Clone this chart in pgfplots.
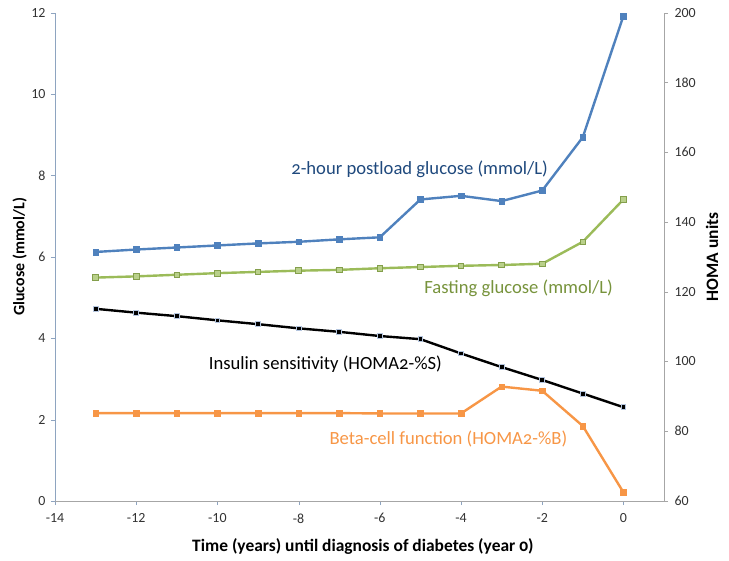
\documentclass[border=0pt]{standalone}
\usepackage{fontspec}
\setmainfont{Carlito}
\newfontfamily\osf[Numbers=OldStyle]{Carlito}
\usepackage{pgfplots}
\pgfplotsset{compat=1.18}
\definecolor{cblue}{HTML}{4F81BD}
\definecolor{cgreen}{HTML}{9BBB59}
\definecolor{cgreenfill}{HTML}{B9D08A}
\definecolor{corange}{HTML}{F79646}
\definecolor{tdblue}{HTML}{1F497D}
\definecolor{tgreen}{HTML}{77933C}
\definecolor{axblue}{HTML}{8EA4C0}
\definecolor{axgray}{HTML}{A6A6A6}
\definecolor{mkborder}{HTML}{B4C5DE}
\tikzset{lbl/.style={font=\osf\fontsize{18.7}{22}\selectfont}}
\begin{document}
\begin{tikzpicture}
\pgfplotsset{
  base/.style={
    scale only axis, width=609bp, height=488.3bp,
    xmin=-14, xmax=1,
    tick align=outside, major tick length=4bp,
    ticklabel style={font=\fontsize{14}{16}\selectfont, color=black!80},
    /pgf/number format/assume math mode=true,
    label style={font=\bfseries\fontsize{16}{19}\selectfont},
  },
}
\begin{axis}[base, name=ax,
  ymin=0, ymax=12,
  axis y line*=left, axis x line*=bottom,
  xtick={-14,-12,...,0}, ytick={0,2,...,12},
  axis line style={axblue}, tick style={axblue},
  x axis line style={axgray},
  xticklabel style={yshift=-5bp},
  yticklabel style={xshift=-2bp},
  xlabel={Time (years) until diagnosis of diabetes (year {\addfontfeature{Numbers=OldStyle}0})},
  ylabel={Glucose (mmol/L)},
  xlabel style={at={(axis description cs:0.5055,-0.094)}, anchor=center, font=\bfseries\fontsize{17.5}{20}\selectfont},
  ylabel style={at={(axis description cs:-0.058,0.5)}, anchor=center},
  clip=false,
]
\addplot[cblue, line width=2.4bp, mark=square*, mark size=2.8bp, mark options={fill=cblue, draw=cblue, line width=0.5bp}] coordinates {
(-13,6.12) (-12,6.18) (-11,6.23) (-10,6.28) (-9,6.33) (-8,6.37) (-7,6.43) (-6,6.48)
(-5,7.41) (-4,7.50) (-3,7.37) (-2,7.63) (-1,8.94) (0,11.92)};
\addplot[cgreen, line width=2.4bp, mark=square*, mark size=2.8bp, mark options={fill=cgreenfill, draw=cgreen!85!black, line width=0.8bp}] coordinates {
(-13,5.49) (-12,5.52) (-11,5.56) (-10,5.60) (-9,5.63) (-8,5.66) (-7,5.68) (-6,5.72)
(-5,5.75) (-4,5.78) (-3,5.80) (-2,5.83) (-1,6.37) (0,7.41)};
\node[tdblue, lbl] at (axis cs:-5.02,8.16) {2-hour postload glucose (mmol/L)};
\node[tgreen, lbl] at (axis cs:-2.58,5.23) {Fasting glucose (mmol/L)};
\node[black, lbl] at (axis cs:-7.34,3.37) {Insulin sensitivity (HOMA2-\%S)};
\node[corange, lbl] at (axis cs:-4.31,1.52) {Beta-cell function (HOMA2-\%B)};
\end{axis}
\begin{axis}[base,
  ymin=60, ymax=200,
  axis x line=none, axis y line*=right,
  ytick={60,80,...,200},
  axis line style={axgray}, tick style={axgray},
  yticklabel style={xshift=3bp},
  ylabel={HOMA units},
  ylabel style={at={(axis description cs:1.079,0.5)}, anchor=center, font=\bfseries\fontsize{17.5}{20}\selectfont},
]
\addplot[black, line width=2.4bp, mark=square*, mark size=2.4bp, mark options={fill=black, draw=mkborder, line width=0.8bp}] coordinates {
(-13,115.1) (-12,114.0) (-11,113.0) (-10,111.8) (-9,110.7) (-8,109.5) (-7,108.5) (-6,107.3)
(-5,106.4) (-4,102.3) (-3,98.4) (-2,94.7) (-1,90.8) (0,86.9)};
\addplot[corange, line width=2.4bp, mark=square*, mark size=2.8bp, mark options={fill=corange, draw=corange, line width=0.5bp}] coordinates {
(-13,85.2) (-12,85.2) (-11,85.2) (-10,85.2) (-9,85.2) (-8,85.2) (-7,85.2) (-6,85.1)
(-5,85.1) (-4,85.1) (-3,92.8) (-2,91.6) (-1,81.5) (0,62.5)};
\end{axis}
\path ([xshift=-55bp,yshift=-60bp]ax.south west) rectangle ([xshift=65bp,yshift=12.7bp]ax.north east);
\end{tikzpicture}
\end{document}
